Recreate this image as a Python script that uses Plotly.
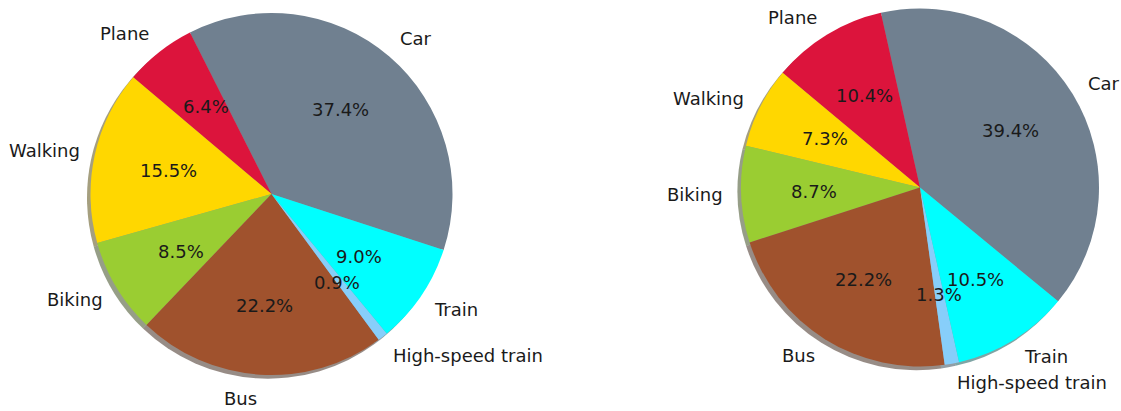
import math
import plotly.graph_objects as go

# ---------------- data ----------------
labels = ["Car", "Plane", "Walking", "Biking", "Bus", "High-speed train", "Train"]
left_values = [37.4, 6.4, 15.5, 8.5, 22.2, 0.9, 9.0]
right_values = [39.4, 10.4, 7.3, 8.7, 22.2, 1.3, 10.5]
colors = ["#708090", "#DC143C", "#FFD700", "#9ACD32", "#A0522D", "#87CEFA", "#00FFFF"]

# ---------------- layout constants ----------------
W, H = 1121, 411
FONT = "DejaVu Sans"
FS = 18
pies = [
    # values, center x, center y (px), radius, text radius x, text radius y, start angle (deg, math)
    dict(values=left_values, cx=271.5, cy=194.0, r=181.0, rx=176.5, ry=186.0, start=-18.0),
    dict(values=right_values, cx=920.0, cy=187.5, r=179.0, rx=177.0, ry=180.5, start=-39.5),
]
SHADOW_DX, SHADOW_DY = -3.5, 3.7  # px (left, down)


def shade(hexcol):
    h = hexcol.lstrip("#")
    r, g, b = (int(h[i:i + 2], 16) for i in (0, 2, 4))
    return f"rgba({r*0.3:.0f},{g*0.3:.0f},{b*0.3:.0f},0.5)"


def fx(px):
    return px / W


def fy(py):
    return 1 - py / H


def domain(cx, cy, r, dx=0.0, dy=0.0):
    return dict(
        x=[fx(cx + dx - r), fx(cx + dx + r)],
        y=[fy(cy + dy + r), fy(cy + dy - r)],
    )


fig = go.Figure()
annotations = []

for p in pies:
    vals = p["values"]
    total = sum(vals)
    # plotly (counterclockwise): first slice spans [rotation, rotation + size] clockwise from 12 o'clock
    rotation = 90 - p["start"] - vals[0] / total * 360
    # shadow
    fig.add_trace(go.Pie(
        labels=labels, values=vals, sort=False, direction="counterclockwise",
        rotation=rotation, marker=dict(colors=[shade(c) for c in colors], line=dict(width=0)),
        textinfo="none", hoverinfo="skip", showlegend=False,
        domain=domain(p["cx"], p["cy"], p["r"], SHADOW_DX, SHADOW_DY),
    ))
    # pie
    fig.add_trace(go.Pie(
        labels=labels, values=vals, sort=False, direction="counterclockwise",
        rotation=rotation, marker=dict(colors=colors, line=dict(width=0)),
        textinfo="none", showlegend=False,
        domain=domain(p["cx"], p["cy"], p["r"]),
    ))
    acc = 0.0
    for lab, v in zip(labels, vals):
        mid = math.radians(p["start"] + (acc + v / 2) / total * 360)
        acc += v
        c, s = math.cos(mid), math.sin(mid)
        # outer label
        lx = p["cx"] + 1.1 * p["rx"] * c
        ly = p["cy"] - 1.1 * p["ry"] * s
        annotations.append(dict(
            x=fx(lx), y=fy(ly), xref="paper", yref="paper", text=lab,
            showarrow=False, xanchor="left" if c > 0 else "right", yanchor="middle",
            font=dict(family=FONT, size=FS, color="#1a1a1a"),
        ))
        # percentage
        px = p["cx"] + 0.6 * p["rx"] * c
        py = p["cy"] - 0.6 * p["ry"] * s
        annotations.append(dict(
            x=fx(px), y=fy(py), xref="paper", yref="paper", text=f"{v:.1f}%",
            showarrow=False, xanchor="center", yanchor="middle",
            font=dict(family=FONT, size=FS, color="#1a1a1a"),
        ))

fig.update_layout(
    width=W, height=H,
    margin=dict(l=0, r=0, t=0, b=0),
    paper_bgcolor="white", plot_bgcolor="white",
    annotations=annotations,
    font=dict(family=FONT, size=FS),
)

fig.write_html(
    "out.html",
    config={"displayModeBar": False},
    post_script="document.body.style.margin='0';document.body.style.overflow='hidden';",
)
